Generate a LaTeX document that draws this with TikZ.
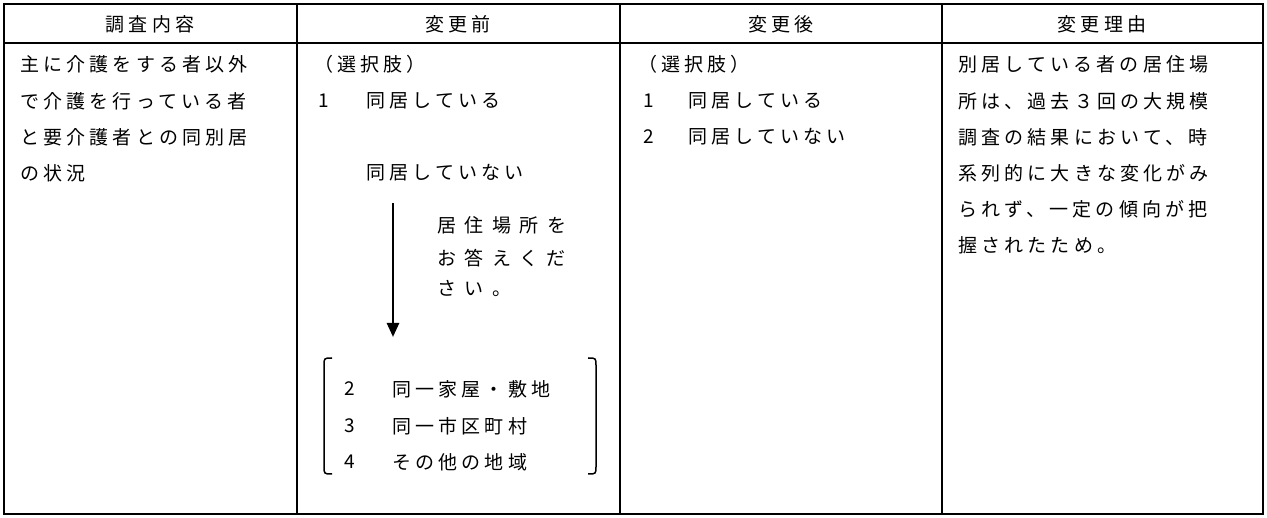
\documentclass[tikz,border=0pt]{standalone}
\usepackage{fontspec}
\setmainfont{Noto Sans CJK JP}[LetterSpace=22]
\newfontfamily\wide{Noto Sans CJK JP}[LetterSpace=45]
\usetikzlibrary{arrows.meta}
\begin{document}
\begin{tikzpicture}[x=1pt,y=-1pt,
  t/.style={anchor=west,inner sep=0pt,font=\fontsize{19}{19}\selectfont},
  h/.style={inner sep=0pt,font=\fontsize{19}{19}\selectfont},
  w/.style={t,font=\fontsize{19}{19}\selectfont\wide},
  ln/.style={line width=1.2pt}]
\useasboundingbox (0,0) rectangle (1267,518);
\draw[ln] (4,4) rectangle (1263,514);
\draw[ln] (4,43) -- (1263,43);
\foreach \x in {297,620,942} \draw[ln] (\x,4) -- (\x,514);
\node[h] (h1) at (150,24) {調査内容};
\node[h] (h2) at (458,24) {変更前};
\node[h] (h3) at (781,24) {変更後};
\node[h] (h4) at (1102,24) {変更理由};
% col1
\node[t] (a1) at (20,64) {主に介護をする者以外};
\node[t] (a2) at (20,101) {で介護を行っている者};
\node[t] (a3) at (20,137) {と要介護者との同別居};
\node[t] (a4) at (20,173) {の状況};
% col2
\node[t] (b0) at (314,64) {（選択肢）};
\node[t] (b1n) at (318,101) {1};
\node[t] (b1) at (366,101) {同居している};
\node[t] (b2) at (366,173) {同居していない};
\coordinate (as) at (393,203);
\coordinate (ae) at (393,337);
\draw[line width=2.5pt,-{Triangle[length=14pt,width=12pt]}] (as) -- (ae);
\node[w] (c1) at (437,225) {居住場所を};
\node[w] (c2) at (437,258) {お答えくだ};
\node[w] (c3) at (437,289) {さい。};
\draw[line width=1.5pt] (332,358) .. controls (324,358) .. (324,366) -- (324,466) .. controls (324,474) .. (332,474);
\draw[line width=1.5pt] (588,358) .. controls (596,358) .. (596,366) -- (596,466) .. controls (596,474) .. (588,474);
\node[t] (d1n) at (344,389) {2};
\node[t] (d1) at (392,389) {同一家屋・敷地};
\node[t] (d2n) at (344,426) {3};
\node[t] (d2) at (392,426) {同一市区町村};
\node[t] (d3n) at (344,462) {4};
\node[t] (d3) at (392,462) {その他の地域};
% col3
\node[t] (e0) at (638,64) {（選択肢）};
\node[t] (e1n) at (643,101) {1};
\node[t] (e1) at (688,101) {同居している};
\node[t] (e2n) at (643,137) {2};
\node[t] (e2) at (688,137) {同居していない};
% col4
\node[t] (f1) at (958,64) {別居している者の居住場};
\node[t] (f2) at (958,101) {所は、過去３回の大規模};
\node[t] (f3) at (958,137) {調査の結果において、時};
\node[t] (f4) at (958,173) {系列的に大きな変化がみ};
\node[t] (f5) at (958,209) {られず、一定の傾向が把};
\node[t] (f6) at (958,245) {握されたため。};
\end{tikzpicture}
\end{document}
